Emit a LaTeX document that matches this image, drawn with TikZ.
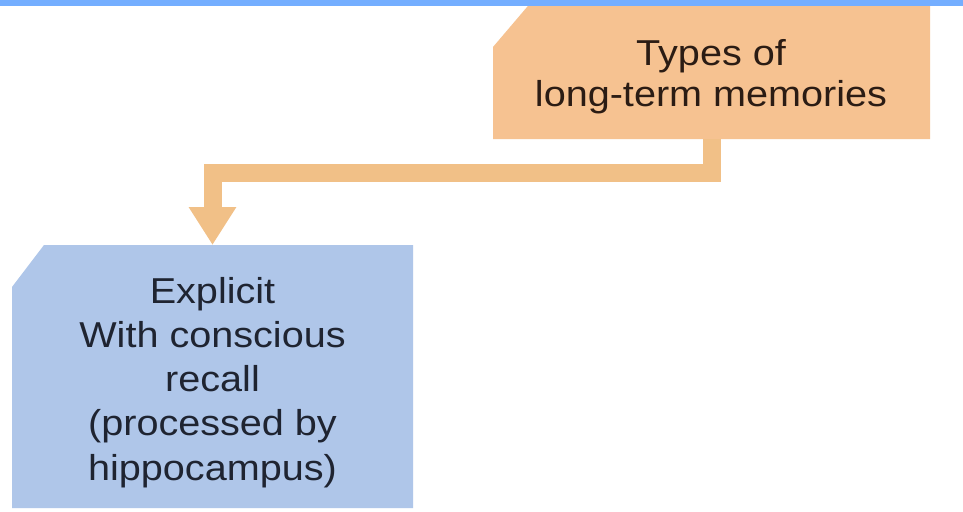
\documentclass[tikz,border=0pt]{standalone}
\usepackage{fontspec}
\newfontfamily\boxfont[FakeStretch=1.1]{Liberation Sans}
\usetikzlibrary{arrows.meta}
\definecolor{bandblue}{HTML}{74AEFF}
\definecolor{boxorange}{HTML}{F6C291}
\definecolor{floworange}{HTML}{F1C087}
\definecolor{boxblue}{HTML}{AFC6E9}
\definecolor{inkblue}{HTML}{1F2431}
\definecolor{inkbrown}{HTML}{2B1C14}
\tikzset{
  frame/.style={rectangle, inner sep=0pt, outer sep=0pt},
  label text/.style={font=\boxfont\fontsize{36}{44.25}\selectfont, align=center, inner sep=0pt, anchor=base},
  tight text/.style={label text, font=\boxfont\fontsize{36}{40}\selectfont},
  flow/.style={draw=floworange, line width=18pt,
    -{Triangle[width=45pt, length=38pt]}},
}
\begin{document}
\begin{tikzpicture}[x=1pt, y=-1pt]
  \useasboundingbox (0,0) rectangle (963,511);
  \fill[white] (0,0) rectangle (963,511);

  % box frames (named), filled below with a cut north-west corner
  \node[frame, minimum width=437pt, minimum height=139pt] (types) at (711.5,69.5) {};
  \node[frame, minimum width=401pt, minimum height=263pt] (explicit) at (212.5,376.5) {};

  \fill[boxorange] (types.south west) -- (types.south east) -- (types.north east)
    -- ([xshift=40pt]types.north west) -- ([yshift=-47pt]types.north west) -- cycle;
  \fill[boxblue] (explicit.south west) -- (explicit.south east) -- (explicit.north east)
    -- ([xshift=32pt]explicit.north west) -- ([yshift=-42pt]explicit.north west) -- cycle;

  % connector from the top box down to the lower box
  \draw[flow] (types.south) -- ++(0,33.5) -| (explicit.north);

  % texts (anchored at the baseline of their last line)
  \node[tight text, text=inkbrown] (typeslabel) at (711,106) {Types of\\long-term memories};
  \node[label text, text=inkblue] (explicitlabel) at (212.5,480)
    {Explicit\\With conscious\\recall\\(processed by\\hippocampus)};

  % top band
  \fill[bandblue] (0,0) rectangle (963,6);
\end{tikzpicture}
\end{document}
